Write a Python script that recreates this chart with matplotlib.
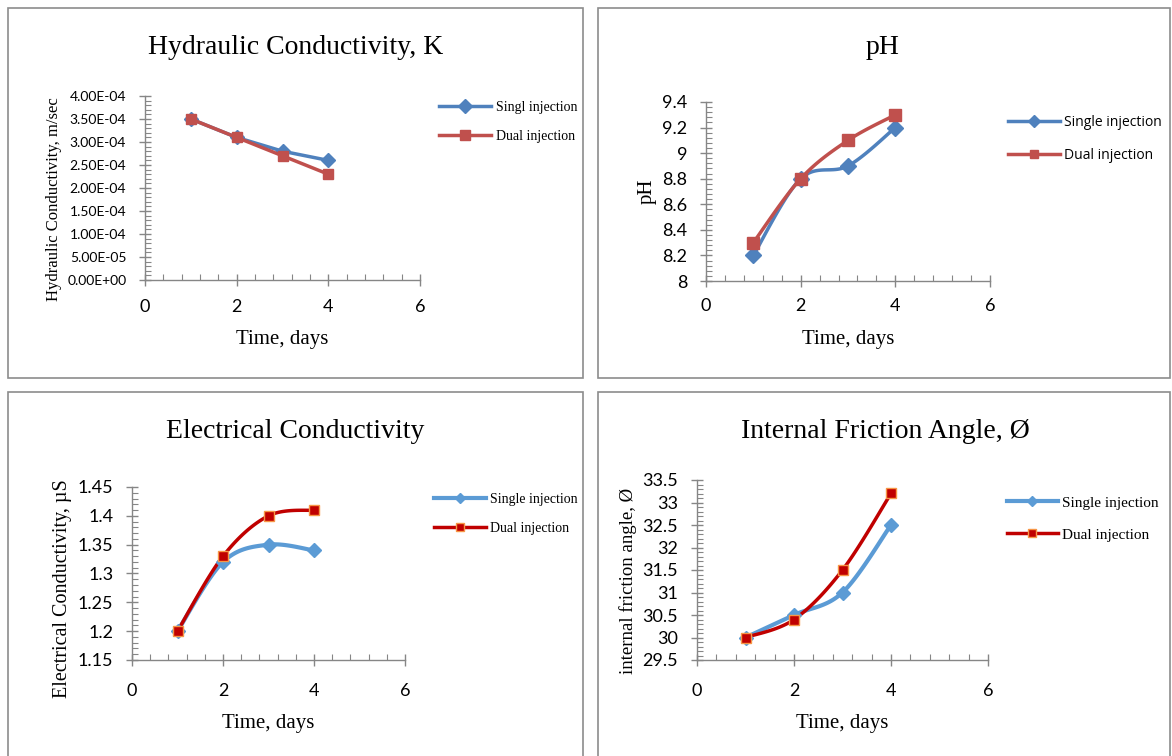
import numpy as np
import matplotlib.pyplot as plt
from matplotlib.patches import Rectangle
from matplotlib.ticker import MultipleLocator, FuncFormatter

days = [1, 2, 3, 4]

k_single = [3.5e-4, 3.1e-4, 2.8e-4, 2.6e-4]
k_dual = [3.5e-4, 3.1e-4, 2.7e-4, 2.3e-4]

ph_single = [8.2, 8.8, 8.9, 9.2]
ph_dual = [8.3, 8.8, 9.1, 9.3]

ec_single = [1.2, 1.32, 1.35, 1.34]
ec_dual = [1.2, 1.33, 1.40, 1.41]

phi_single = [30, 30.5, 31, 32.5]
phi_dual = [30, 30.4, 31.5, 33.2]

W, H = 1172, 756
serif = 'Liberation Serif'
sans = 'Lato'
gray = '#868686'


def smooth(x, y, n=30):
    # excel style smoothed line (bezier through the points)
    x = np.asarray(x, float)
    y = np.asarray(y, float)
    px = np.concatenate([[x[0]], x, [x[-1]]])
    py = np.concatenate([[y[0]], y, [y[-1]]])
    xs, ys = [], []
    for i in range(1, len(px) - 2):
        p0, p1, p2, p3 = [np.array([px[j], py[j]]) for j in range(i - 1, i + 3)]
        c1 = p1 + (p2 - p0) / 6
        c2 = p2 - (p3 - p1) / 6
        t = np.linspace(0, 1, n)[:, None]
        pts = ((1 - t) ** 3 * p1 + 3 * (1 - t) ** 2 * t * c1
               + 3 * (1 - t) * t ** 2 * c2 + t ** 3 * p2)
        xs.extend(pts[:, 0])
        ys.extend(pts[:, 1])
    return xs, ys


def rect(x0, yt, x1, yb):
    return [x0 / W, 1 - yb / H, (x1 - x0) / W, (yb - yt) / H]


def title(text, x, y):
    fig.text(x / W, 1 - y / H, text, family=serif, fontsize=20,
             ha='center', va='center')


fig = plt.figure(figsize=(W / 100, H / 100), dpi=100, facecolor='white')

# panel borders
for bx, by, bw, bh in [(8, 8, 575, 370), (598, 8, 572, 370),
                       (8, 392, 575, 380), (598, 392, 572, 380)]:
    fig.add_artist(Rectangle((bx / W, 1 - (by + bh) / H), bw / W, bh / H,
                             transform=fig.transFigure, fill=False,
                             edgecolor='#8c8c8c', linewidth=1.2))


def setup(ax, ylo, yhi, ymaj, ylabel, ylsize, ytsize, fmt, xpad, ly):
    ax.set_xlim(0, 6)
    ax.set_ylim(ylo, yhi)
    ax.xaxis.set_major_locator(MultipleLocator(2))
    ax.xaxis.set_minor_locator(MultipleLocator(0.4))
    ax.yaxis.set_major_locator(MultipleLocator(ymaj))
    ax.yaxis.set_minor_locator(MultipleLocator(ymaj / 5))
    ax.yaxis.set_major_formatter(FuncFormatter(fmt))
    for s in ['top', 'right']:
        ax.spines[s].set_visible(False)
    for s in ['left', 'bottom']:
        ax.spines[s].set_color(gray)
        ax.spines[s].set_linewidth(1.0)
    ax.tick_params(which='major', direction='inout', length=9, color=gray, width=1)
    ax.tick_params(which='minor', direction='in', length=4, color=gray, width=0.8)
    ax.tick_params(axis='x', labelsize=13, pad=xpad)
    ax.tick_params(axis='y', labelsize=ytsize, pad=9)
    for lab in ax.get_xticklabels() + ax.get_yticklabels():
        lab.set_family(sans)
    ax.set_xlabel('Time, days', family=serif, fontsize=15, labelpad=11)
    ax.set_ylabel(ylabel, family=serif, fontsize=ylsize, labelpad=4)
    ax.yaxis.label.set_y(ly)


# Hydraulic conductivity
ax1 = fig.add_axes(rect(145, 96, 420, 280))
ax1.plot(days, k_single, color='#4F81BD', lw=2.5, marker='D', ms=7,
         label='Singl injection', clip_on=False)
ax1.plot(days, k_dual, color='#C0504D', lw=2.5, marker='s', ms=7,
         label='Dual injection', clip_on=False)
setup(ax1, 0, 4e-4, 5e-5, 'Hydraulic Conductivity, m/sec', 12, 10,
      lambda v, p: '{:.2E}'.format(v), 9, 0.44)
title('Hydraulic Conductivity, K', 296, 47)
ax1.legend(loc='upper left', bbox_to_anchor=(433 / W, 1 - 95 / H),
           bbox_transform=fig.transFigure, frameon=False,
           prop={'family': serif, 'size': 10}, handlelength=3.8,
           labelspacing=1.2, handletextpad=0.3, borderaxespad=0)

# pH
ax2 = fig.add_axes(rect(706, 102, 990, 281))
ax2.plot(*smooth(days, ph_single), color='#4F81BD', lw=2.5)
ax2.plot(*smooth(days, ph_dual), color='#C0504D', lw=2.5)
ax2.plot(days, ph_single, color='#4F81BD', marker='D', ms=8, ls='none', clip_on=False)
ax2.plot(days, ph_dual, color='#C0504D', marker='s', ms=8, ls='none', clip_on=False)
setup(ax2, 8, 9.4, 0.2, 'pH', 15, 13, lambda v, p: '{:g}'.format(round(v, 1)), 8, 0.5)
title('pH', 883, 47)
h1, = ax2.plot([], [], color='#4F81BD', lw=2.5, marker='D', ms=6)
h2, = ax2.plot([], [], color='#C0504D', lw=2.5, marker='s', ms=6)
ax2.legend([h1, h2], ['Single injection', 'Dual injection'], loc='upper left',
           bbox_to_anchor=(1002 / W, 1 - 109 / H), bbox_transform=fig.transFigure,
           frameon=False, prop={'family': 'Open Sans', 'size': 10},
           handlelength=3.8, labelspacing=1.35, handletextpad=0.3, borderaxespad=0)

# Electrical conductivity
lb = '#5B9BD5'
dr = '#C00000'
ax3 = fig.add_axes(rect(132, 487, 405, 660))
ax3.plot(*smooth(days, ec_single), color=lb, lw=3)
ax3.plot(*smooth(days, ec_dual), color=dr, lw=2.5)
ax3.plot(days, ec_single, color=lb, marker='D', ms=7, ls='none', clip_on=False)
ax3.plot(days, ec_dual, color=dr, marker='s', ms=7, mec='#F79646', mew=1,
         ls='none', clip_on=False)
setup(ax3, 1.15, 1.45, 0.05, 'Electrical Conductivity, µS', 14.5, 13,
      lambda v, p: '{:g}'.format(round(v, 2)), 12, 0.41)
title('Electrical Conductivity', 295, 431)
h3, = ax3.plot([], [], color=lb, lw=3, marker='D', ms=5)
h4, = ax3.plot([], [], color=dr, lw=2.5, marker='s', ms=6, mec='#F79646')
ax3.legend([h3, h4], ['Single injection', 'Dual injection'], loc='upper left',
           bbox_to_anchor=(428 / W, 1 - 487 / H), bbox_transform=fig.transFigure,
           frameon=False, prop={'family': serif, 'size': 10},
           handlelength=3.8, labelspacing=1.2, handletextpad=0.3, borderaxespad=0)

# Internal friction angle
ax4 = fig.add_axes(rect(697, 480, 988, 660))
ax4.plot(*smooth(days, phi_single), color=lb, lw=3)
ax4.plot(*smooth(days, phi_dual), color=dr, lw=2.5)
ax4.plot(days, phi_single, color=lb, marker='D', ms=7, ls='none', clip_on=False)
ax4.plot(days, phi_dual, color=dr, marker='s', ms=7, mec='#F79646', mew=1,
         ls='none', clip_on=False)
setup(ax4, 29.5, 33.5, 0.5, 'internal friction angle, Ø', 13.5, 13,
      lambda v, p: '{:g}'.format(round(v, 1)), 12, 0.44)
title('Internal Friction Angle, Ø', 885, 431)
h5, = ax4.plot([], [], color=lb, lw=3, marker='D', ms=5)
h6, = ax4.plot([], [], color=dr, lw=2.5, marker='s', ms=6, mec='#F79646')
ax4.legend([h5, h6], ['Single injection', 'Dual injection'], loc='upper left',
           bbox_to_anchor=(1001 / W, 1 - 490 / H), bbox_transform=fig.transFigure,
           frameon=False, prop={'family': serif, 'size': 11},
           handlelength=3.3, labelspacing=1.2, handletextpad=0.3, borderaxespad=0)

fig.savefig('out.png', dpi=100, facecolor='white')
